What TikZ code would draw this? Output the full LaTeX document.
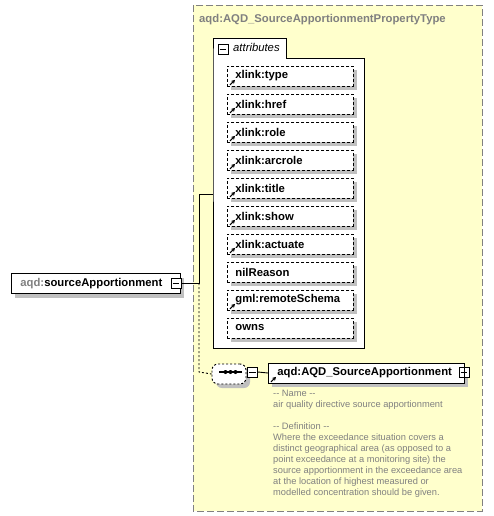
\documentclass[tikz,border=0pt]{standalone}
\usepackage{fontspec}
\setmainfont{Liberation Sans}
\usetikzlibrary{shadows,arrows.meta}
\definecolor{bgyellow}{RGB}{255,255,204}
\definecolor{shadowgray}{RGB}{192,192,192}
\definecolor{txtgray}{RGB}{128,128,128}
\begin{document}
\begin{tikzpicture}[x=1pt,y=-1pt,
  shad/.style={drop shadow={shadow xshift=4pt,shadow yshift=-4pt,fill=shadowgray,opacity=1}},
  boldfont/.style={font=\fontsize{11.3}{13}\selectfont\bfseries},
  attrbox/.style={draw=black,line width=0.8pt,dash pattern=on 3pt off 2pt,fill=white,shad,anchor=west,
    minimum height=20pt,text width=110pt,inner xsep=8pt,inner ysep=0pt,align=left,boldfont},
  elembox/.style={draw=black,line width=0.8pt,fill=white,shad,anchor=west,minimum height=20pt,
    inner xsep=9pt,inner ysep=0pt,align=left,boldfont},
  togglebox/.style={draw=black,line width=0.8pt,fill=white,minimum size=10pt,inner sep=0pt},
  refarrow/.style={-{Stealth[length=3.8pt,width=4.2pt]},line width=1.1pt},
  conn/.style={draw=black,line width=0.9pt},
  dconn/.style={draw=black,line width=0.9pt,dash pattern=on 2pt off 2pt},
  desc/.style={font=\fontsize{9.3}{11}\selectfont,text=txtgray,align=left,inner sep=0pt}
]
\useasboundingbox (0,0) rectangle (493,516);
% outer complex type box
\draw[fill=bgyellow,draw=txtgray,line width=0.9pt,dash pattern=on 7pt off 3pt] (193,5) rectangle (482,511);
\node[anchor=base west,inner sep=0pt,boldfont,text=txtgray] (title) at (199,23) {aqd:AQD\_SourceApportionmentPropertyType};

% attributes container
\draw[fill=white,draw=black,line width=0.9pt] (213,58) -- (213,38) -- (286,38) -- (286,58) -- (364,58) -- (364,348) -- (213,348) -- cycle;
\node[togglebox] (attrtog) at (223,49) {};
\draw[line width=0.8pt] ([xshift=2pt]attrtog.west) -- ([xshift=-2pt]attrtog.east);
\node[anchor=base west,inner sep=0pt,font=\fontsize{11.3}{13}\selectfont\itshape] (attrlabel) at (233,52) {attributes};
\coordinate (attrw) at (213,194);

% attribute boxes
\foreach \nm/\txt/\yy/\ic in {a1/xlink:type/76/1,a2/xlink:href/104/1,a3/xlink:role/132/1,a4/xlink:arcrole/160/1,a5/xlink:title/188/1,a6/xlink:show/216/1,a7/xlink:actuate/244/1,a8/nilReason/272/0,a9/gml:remoteSchema/300/1,a10/owns/328/0}{
  \node[attrbox] (\nm) at (227,\yy) {\txt};
  \ifnum\ic=1
    \draw[refarrow] ([shift={(3,-1.5)}]\nm.south west) -- ++(5,-5);
  \fi
}

% element sourceApportionment
\node[elembox,text width=151pt] (src) at (11,283.5) {\textcolor{txtgray}{aqd:}sourceApportionment};
\node[togglebox] (srctog) at (176,283) {};
\draw[line width=0.8pt] ([xshift=2pt]srctog.west) -- ([xshift=-2pt]srctog.east);

% sequence compositor
\node[draw=black,line width=0.9pt,dash pattern=on 2pt off 2pt,fill=white,rounded corners=6pt,minimum width=34pt,minimum height=20pt,inner sep=0pt,shad] (seq) at (229,374) {};
\draw[line width=1.2pt] (219,372) -- (242,372);
\foreach \xx in {225.5,230.5,235.5} \fill (\xx,372) circle (2pt);
\node[togglebox,anchor=west] (seqtog) at (247,372) {};
\draw[line width=0.8pt] ([xshift=2pt]seqtog.west) -- ([xshift=-2pt]seqtog.east);

% element AQD_SourceApportionment
\node[elembox,text width=178pt] (elem) at (268,373) {aqd:AQD\_SourceApportionment};
\draw[refarrow] ([shift={(3,-1.5)}]elem.south west) -- ++(5,-5);
\node[togglebox] (elemtog) at (464,372) {};
\draw[line width=0.8pt] ([xshift=2pt]elemtog.west) -- ([xshift=-2pt]elemtog.east);
\draw[line width=0.8pt] ([yshift=2pt]elemtog.north) -- ([yshift=-2pt]elemtog.south);

% description
\node[desc,anchor=north west] (doc) at (273,390.3) {-{}- Name -{}-\\air quality directive source apportionment\\[11pt]-{}- Definition -{}-\\Where the exceedance situation covers a\\distinct geographical area (as opposed to a\\point exceedance at a monitoring site) the\\source apportionment in the exceedance area\\at the location of highest measured or\\modelled concentration should be given.};

% connectors
\coordinate (jn) at (199,283);
\path[conn] (srctog.east) -- (jn) -- (199,194) -- (attrw);
\path[dconn] (jn) -- (199,372) -- (seq.west);
\path[conn] (seqtog.east) -- (elem.west);
\end{tikzpicture}
\end{document}
